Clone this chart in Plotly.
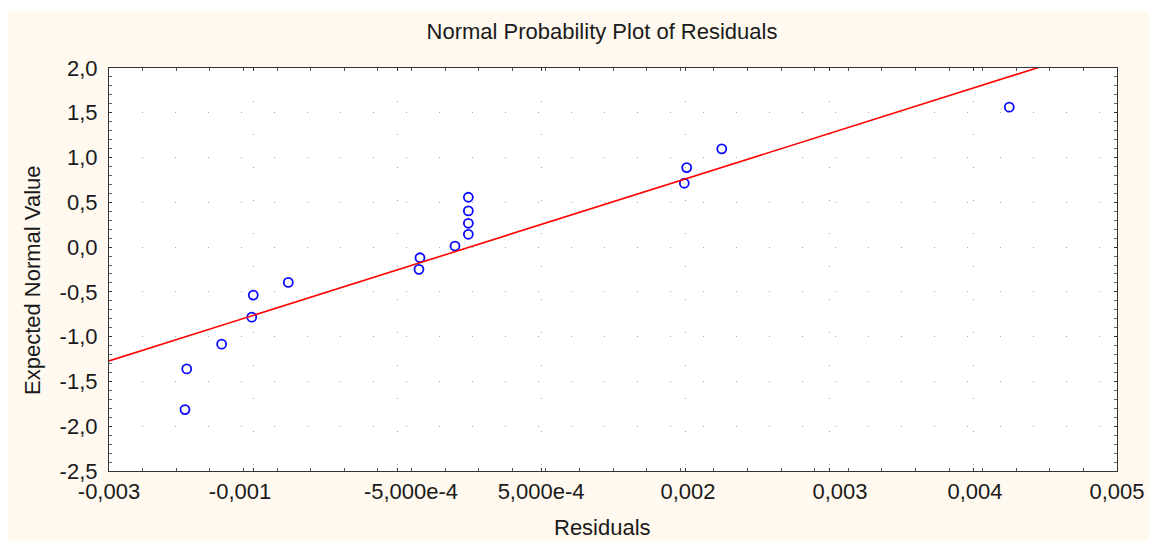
import numpy as np
import plotly.graph_objects as go

# ---- data ----
residuals = [-0.002397, -0.002383, -0.002106, -0.001867, -0.001855, -0.001577,
             -0.000540, -0.000532, -0.000254, -0.000148, -0.000148, -0.000148,
             -0.000148, 0.001566, 0.001585, 0.001863, 0.004145]
expected = [-1.814, -1.360, -1.084, -0.782, -0.536, -0.394,
            -0.248, -0.119, 0.012, 0.143, 0.266, 0.404,
            0.557, 0.713, 0.888, 1.097, 1.563]
fit_intercept = 0.062
fit_slope = 444.1

x_range = [-0.003, 0.005]
y_range = [-2.5, 2.0]

x_label_vals = [-0.003, -0.00196, -0.000603, 0.000429, 0.001595, 0.002802, 0.003873, 0.005]
x_label_text = ["-0,003", "-0,001", "-5,000e-4", "5,000e-4", "0,002", "0,003", "0,004", "0,005"]
x_grid_vals = list(np.linspace(-0.003, 0.005, 8))

y_tick_vals = [-2.5, -2.0, -1.5, -1.0, -0.5, 0.0, 0.5, 1.0, 1.5, 2.0]
y_tick_text = ["-2,5", "-2,0", "-1,5", "-1,0", "-0,5", "0,0", "0,5", "1,0", "1,5", "2,0"]

# ---- figure ----
W, H = 1149, 541
L, R, T, B = 109, 32, 68, 70
pw, ph = W - L - R, H - T - B
FONT = "Liberation Sans, Arial, sans-serif"
FS = 22
TXT = "#1a1a1a"
CREAM = "#FFF9EF"

fit_x = np.array(x_range)
fit_y = fit_intercept + fit_slope * fit_x

fig = go.Figure()
fig.add_trace(go.Scatter(
    x=fit_x, y=fit_y, mode="lines", xaxis="x2", yaxis="y",
    line=dict(color="#FF0000", width=1.6), hoverinfo="skip", showlegend=False))
fig.add_trace(go.Scatter(
    x=residuals, y=expected, mode="markers",
    marker=dict(symbol="circle-open", size=9, color="#0A0AFF", line=dict(width=1.8, color="#0A0AFF")),
    showlegend=False))

grid_dash = "1px,32px"
fig.update_layout(
    width=W, height=H,
    margin=dict(l=L, r=R, t=T, b=B, pad=0, autoexpand=False),
    paper_bgcolor=CREAM, plot_bgcolor="white",
    font=dict(family=FONT, size=FS, color=TXT),
    title=dict(text="Normal Probability Plot of Residuals", x=602 / W, xref="container",
               xanchor="center", y=1 - 31 / H, yref="container", yanchor="middle",
               font=dict(family=FONT, size=FS, color=TXT)),
    xaxis=dict(range=x_range, tickmode="array", tickvals=x_grid_vals, showticklabels=False,
               ticks="inside", ticklen=3, tickcolor="#333", automargin=False,
               showgrid=True, gridcolor="#a8a8a8", gridwidth=1, griddash=grid_dash,
               zeroline=False, showline=True, linecolor="#333", linewidth=1.2, mirror="ticks",
               minor=dict(tick0=-0.003, dtick=0.008 / 30, ticks="inside", ticklen=3,
                          tickcolor="#555", showgrid=False)),
    xaxis2=dict(range=x_range, overlaying="x", anchor="y", side="bottom", automargin=False,
                tickmode="array", tickvals=x_label_vals, ticktext=x_label_text,
                ticks="", showgrid=False, zeroline=False, showline=False,
                tickfont=dict(family=FONT, size=FS, color=TXT), ticklabelstandoff=5),
    yaxis=dict(range=y_range, tickmode="array", tickvals=y_tick_vals, ticktext=y_tick_text,
               ticks="inside", ticklen=3, tickcolor="#333", automargin=False,
               showgrid=True, gridcolor="#a8a8a8", gridwidth=1, griddash=grid_dash,
               zeroline=False, showline=True, linecolor="#333", linewidth=1.2, mirror="ticks",
               tickfont=dict(family=FONT, size=FS, color=TXT), ticklabelstandoff=6,
               minor=dict(dtick=0.1, tick0=0, ticks="inside", ticklen=3,
                          tickcolor="#666", showgrid=False)),
    annotations=[
        dict(text="Residuals", xref="paper", yref="paper",
             x=(602 - L) / pw, y=(H - B - 527) / ph, xanchor="center", yanchor="middle",
             showarrow=False, font=dict(family=FONT, size=FS, color=TXT)),
        dict(text="Expected Normal Value", xref="paper", yref="paper", textangle=-90,
             x=(32 - L) / pw, y=(H - B - 280) / ph, xanchor="center", yanchor="middle",
             showarrow=False, font=dict(family=FONT, size=FS, color=TXT)),
    ],
    shapes=[
        dict(type="rect", xref="paper", yref="paper", layer="below",
             x0=-L / pw, x1=(8 - L) / pw, y0=-B / ph, y1=(H - B) / ph,
             fillcolor="white", line=dict(width=0)),
        dict(type="rect", xref="paper", yref="paper", layer="below",
             x0=-L / pw, x1=(W - L) / pw, y0=(H - B - 11) / ph, y1=(H - B) / ph,
             fillcolor="white", line=dict(width=0)),
    ],
)

fig.write_html("out.html")
